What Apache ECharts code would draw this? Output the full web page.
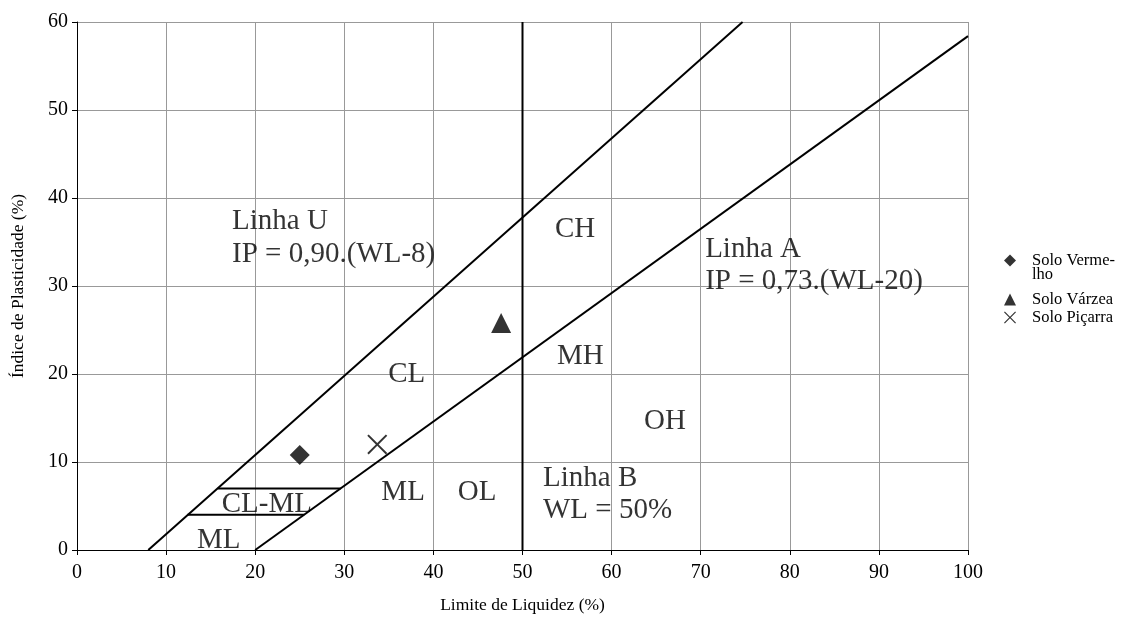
<!DOCTYPE html>
<html lang="pt">
<head>
<meta charset="UTF-8">
<title>Carta de Plasticidade</title>
<script src="https://cdn.jsdelivr.net/npm/echarts@6/dist/echarts.min.js"></script>
<style>
  html, body { margin: 0; padding: 0; background: #fff; }
  #chart { width: 1121px; height: 619px; }
</style>
</head>
<body>
<div id="chart"></div>
<script type="text/javascript">
// amostras de solo (WL, IP)
var soloVermelho = [[25, 10.8]];
var soloVarzea = [[47.6, 25.8]];
var soloPicarra = [[33.7, 12.0]];

// linhas da carta de plasticidade
var linhaU = [[8, 0], [74.7, 60]];
var linhaA = [[20, 0], [100, 58.4]];
var linhaB = [[50, 0], [50, 60]];
var clml7 = [[15.8, 7], [29.6, 7]];
var clml4 = [[12.4, 4], [25.5, 4]];

// rotulos das zonas: [WL, IP, texto, alinhamento]
var rotulos = [
  [17.4, 37.3, 'Linha U', 'left'],
  [17.4, 33.6, 'IP = 0,90.(WL-8)', 'left'],
  [55.9, 36.4, 'CH', 'center'],
  [70.5, 34.2, 'Linha A', 'left'],
  [70.5, 30.5, 'IP = 0,73.(WL-20)', 'left'],
  [37.0, 20.0, 'CL', 'center'],
  [56.5, 22.0, 'MH', 'center'],
  [66.0, 14.6, 'OH', 'center'],
  [52.3, 8.1, 'Linha B', 'left'],
  [52.3, 4.5, 'WL = 50%', 'left'],
  [36.6, 6.5, 'ML', 'center'],
  [44.9, 6.5, 'OL', 'center'],
  [21.3, 5.15, 'CL-ML', 'center'],
  [15.9, 1.1, 'ML', 'center']
];

var xTicks = [0, 10, 20, 30, 40, 50, 60, 70, 80, 90, 100];
var yTicks = [0, 10, 20, 30, 40, 50, 60];

var serif = '"Liberation Serif", "DejaVu Serif", serif';
var xSymbol = 'path://M0,0.7L0.7,0L5,4.3L9.3,0L10,0.7L5.7,5L10,9.3L9.3,10L5,5.7L0.7,10L0,9.3L4.3,5Z';

function linha(data) {
  return {
    type: 'line',
    data: data,
    symbol: 'none',
    silent: true,
    lineStyle: { color: '#000', width: 2 },
    z: 3
  };
}

function legenda(nome, top, formatter) {
  return {
    orient: 'vertical',
    left: 999,
    top: top,
    itemWidth: 12,
    itemHeight: 12,
    textStyle: {
      fontFamily: serif, fontSize: 16.5, color: '#000', lineHeight: 14,
      padding: [0, 0, 0, 11],
      rich: { sp: { fontSize: 16.5, lineHeight: 14 } }
    },
    formatter: formatter,
    data: [nome]
  };
}

var chart = echarts.init(document.getElementById('chart'));

var option = {
  animation: false,
  backgroundColor: '#fff',
  textStyle: { fontFamily: serif },
  grid: { left: 77, right: 153, top: 22, bottom: 66 },
  legend: [
    legenda('Solo Vermelho', 233, '{sp| }\nSolo Verme-\nlho'),
    legenda('Solo Várzea', 286, '{name}'),
    legenda('Solo Piçarra', 304, '{name}')
  ],
  xAxis: {
    type: 'value',
    min: xTicks[0],
    max: xTicks[xTicks.length - 1],
    interval: 10,
    name: 'Limite de Liquidez (%)',
    nameLocation: 'middle',
    nameGap: 46,
    nameTextStyle: { fontFamily: serif, fontSize: 17.5, color: '#000' },
    axisLine: { lineStyle: { color: '#000', width: 1 } },
    axisTick: { show: true, inside: false, length: 5, lineStyle: { color: '#000' } },
    axisLabel: { fontFamily: serif, fontSize: 20, color: '#000', margin: 13 },
    splitLine: { show: true, lineStyle: { color: '#999', width: 1 } }
  },
  yAxis: {
    type: 'value',
    min: yTicks[0],
    max: yTicks[yTicks.length - 1],
    interval: 10,
    name: 'Índice de Plasticidade (%)',
    nameLocation: 'middle',
    nameGap: 50,
    nameTextStyle: { fontFamily: serif, fontSize: 17.5, color: '#000' },
    axisLine: { show: true, lineStyle: { color: '#000', width: 1 } },
    axisTick: { show: true, inside: false, length: 5, lineStyle: { color: '#000' } },
    axisLabel: { fontFamily: serif, fontSize: 20, color: '#000', margin: 9 },
    splitLine: { show: true, lineStyle: { color: '#999', width: 1 } }
  },
  series: [
    linha(linhaU),
    linha(linhaA),
    linha(linhaB),
    linha(clml7),
    linha(clml4),
    {
      type: 'scatter',
      silent: true,
      symbolSize: 0,
      data: rotulos.map(function (r) {
        return {
          value: [r[0], r[1]],
          label: {
            show: true,
            position: 'inside',
            formatter: r[2],
            align: r[3],
            verticalAlign: 'middle',
            fontFamily: serif,
            fontSize: 29,
            color: '#000'
          }
        };
      }),
      z: 4
    },
    {
      name: 'Solo Vermelho',
      type: 'scatter',
      symbol: 'diamond',
      symbolSize: 20,
      itemStyle: { color: '#000' },
      data: soloVermelho,
      z: 5
    },
    {
      name: 'Solo Várzea',
      type: 'scatter',
      symbol: 'triangle',
      symbolSize: 20,
      itemStyle: { color: '#000' },
      data: soloVarzea,
      z: 5
    },
    {
      name: 'Solo Piçarra',
      type: 'scatter',
      symbol: xSymbol,
      symbolSize: 20,
      itemStyle: { color: '#000' },
      data: soloPicarra,
      z: 5
    }
  ]
};

chart.setOption(option);
</script>
</body>
</html>
